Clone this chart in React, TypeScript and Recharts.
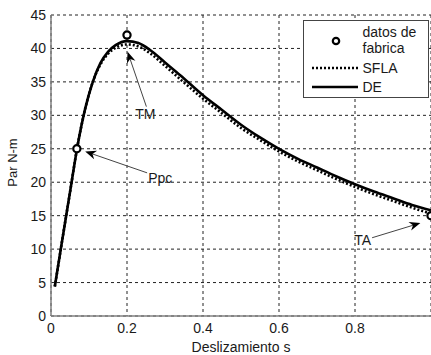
import {
  CartesianGrid,
  ComposedChart,
  Legend,
  Line,
  ReferenceLine,
  Scatter,
  XAxis,
  YAxis,
} from "recharts";

// deslizamiento (slip) sampled along the curves
const slip = [
  0.01, 0.03, 0.05, 0.07, 0.09, 0.11, 0.13, 0.15, 0.17, 0.2, 0.23, 0.26, 0.3,
  0.34, 0.4, 0.45, 0.5, 0.55, 0.6, 0.65, 0.7, 0.75, 0.8, 0.85, 0.9, 0.95, 1.0,
];
const torqueDE = [
  4.4, 11.5, 18.5, 25.5, 31, 35, 37.8, 39.5, 40.5, 41.1, 40.8, 39.8, 37.9, 36,
  33, 30.8, 28.6, 26.7, 25, 23.5, 22.2, 20.9, 19.7, 18.6, 17.6, 16.6, 15.8,
];
const torqueSFLA = [
  4.4, 11.5, 18.5, 25.5, 31, 35, 37.6, 39.2, 40.1, 40.6, 40.3, 39.3, 37.4,
  35.4, 32.5, 30.3, 28.1, 26.3, 24.6, 23.1, 21.8, 20.5, 19.3, 18.2, 17.2, 16.2,
  15.3,
];

// datos de fabrica
const factorySlip = [0.068, 0.2, 1.0];
const factoryTorque = [25, 42, 15];

const xTicks = [0, 0.2, 0.4, 0.6, 0.8, 1];
const yTicks = [0, 5, 10, 15, 20, 25, 30, 35, 40, 45];

// annotations: label, arrow start {s, t}, arrow tip {s, t}
const noteLabels = ["TM", "Ppc", "TA"];
const noteFrom = [
  { x: 0.251, y: 31.3 },
  { x: 0.253, y: 21.4 },
  { x: 0.845, y: 11.7 },
];
const noteTo = [
  { x: 0.2016, y: 39.5 },
  { x: 0.09, y: 24.6 },
  { x: 0.972, y: 13.9 },
];
// text placement relative to the start of each arrow
const noteText = [
  { dx: -1, dy: 12, anchor: "middle" },
  { dx: 1, dy: 10, anchor: "start" },
  { dx: -1, dy: 7, anchor: "end" },
];

const legendNames = ["datos de fabrica", "SFLA", "DE"];

const curveRows = slip.map((s, i) => ({
  s,
  de: torqueDE[i],
  sfla: torqueSFLA[i],
}));
const factoryRows = factorySlip.map((s, i) => ({ s, t: factoryTorque[i] }));

const FONT = "'Liberation Sans', Arial, sans-serif";
const INK = "#1a1a1a";

function arrowShape(i: number) {
  return (props: any) => {
    const { x1, y1, x2, y2 } = props;
    const ang = Math.atan2(y2 - y1, x2 - x1);
    const len = 11;
    const half = 4.5;
    const bx = x2 - len * Math.cos(ang);
    const by = y2 - len * Math.sin(ang);
    const nx = -Math.sin(ang) * half;
    const ny = Math.cos(ang) * half;
    const notchX = x2 - len * 0.7 * Math.cos(ang);
    const notchY = y2 - len * 0.7 * Math.sin(ang);
    const t = noteText[i];
    return (
      <g>
        <line x1={x1} y1={y1} x2={notchX} y2={notchY} stroke="#444" strokeWidth={1} />
        <polygon
          points={`${x2},${y2} ${bx + nx},${by + ny} ${notchX},${notchY} ${bx - nx},${by - ny}`}
          fill="#000"
        />
        <text
          x={x1 + t.dx}
          y={y1 + t.dy}
          textAnchor={t.anchor}
          fontSize={14}
          fill={INK}
          fontFamily={FONT}
        >
          {noteLabels[i]}
        </text>
      </g>
    );
  };
}

function FactoryDot(props: any) {
  const { cx, cy } = props;
  return <circle cx={cx} cy={cy} r={3.6} fill="#fff" stroke="#000" strokeWidth={2.2} />;
}

function LegendBox() {
  const line = (dash?: string) => (
    <svg width={46} height={6} style={{ position: "absolute", left: 8, top: -3 }}>
      <line
        x1={0}
        y1={3}
        x2={46}
        y2={3}
        stroke="#000"
        strokeWidth={2.5}
        strokeDasharray={dash}
      />
    </svg>
  );
  return (
    <div
      style={{
        width: 126,
        height: 78,
        boxSizing: "border-box",
        border: "1.5px solid #444",
        background: "#fff",
        position: "relative",
        fontFamily: FONT,
        fontSize: 14,
        color: INK,
        lineHeight: "16.6px",
      }}
    >
      <svg width={12} height={12} style={{ position: "absolute", left: 26, top: 13.5 }}>
        <circle cx={6} cy={6} r={3.2} fill="#fff" stroke="#000" strokeWidth={2.2} />
      </svg>
      <div style={{ position: "absolute", left: 58.5, top: 2.5, width: 64 }}>
        {legendNames[0]}
      </div>
      <div style={{ position: "absolute", left: 0, top: 47 }}>{line("2 2")}</div>
      <div style={{ position: "absolute", left: 58.5, top: 38.5 }}>{legendNames[1]}</div>
      <div style={{ position: "absolute", left: 0, top: 66 }}>{line()}</div>
      <div style={{ position: "absolute", left: 58.5, top: 57.5 }}>{legendNames[2]}</div>
    </div>
  );
}

export default function App() {
  return (
    <div style={{ position: "absolute", left: 0, top: 0, fontFamily: FONT }}>
      <ComposedChart
        width={431}
        height={355}
        margin={{ top: 15, right: 0, bottom: 0, left: 0 }}
      >
        <CartesianGrid stroke="#222" strokeDasharray="3 3" strokeWidth={1} />
        <XAxis
          type="number"
          dataKey="s"
          domain={[0, 1]}
          ticks={xTicks}
          // the "1" label is cut off by the right edge in the original
          tickFormatter={(v) => (v === 1 ? "" : String(v))}
          height={39}
          tickLine={false}
          tickSize={5}
          tickMargin={2}
          axisLine={{ stroke: "#808080", strokeWidth: 1.5 }}
          tick={{ fontSize: 14, fill: INK }}
          label={{
            value: "Deslizamiento s",
            position: "insideBottom",
            offset: 3,
            fontSize: 14,
            fill: INK,
          }}
        />
        <YAxis
          type="number"
          domain={[0, 45]}
          ticks={yTicks}
          width={51}
          tickLine={false}
          tickSize={3}
          tickMargin={2}
          axisLine={{ stroke: "#808080", strokeWidth: 1.5 }}
          tick={{ fontSize: 14, fill: INK }}
          label={(p: any) => {
            const vb = p.viewBox;
            const cx = vb.x + 12;
            const cy = vb.y + vb.height / 2 - 3;
            return (
              <text
                x={cx}
                y={cy}
                transform={`rotate(-90 ${cx} ${cy})`}
                textAnchor="middle"
                dominantBaseline="central"
                fontSize={13}
                fill={INK}
              >
                Par N-m
              </text>
            );
          }}
        />
        <Line
          data={curveRows}
          dataKey="sfla"
          name={legendNames[1]}
          type="monotone"
          stroke="#000"
          strokeWidth={2.6}
          strokeDasharray="2 2"
          dot={false}
          activeDot={false}
          isAnimationActive={false}
        />
        <Line
          data={curveRows}
          dataKey="de"
          name={legendNames[2]}
          type="monotone"
          stroke="#000"
          strokeWidth={2.6}
          dot={false}
          activeDot={false}
          isAnimationActive={false}
        />
        <Scatter
          data={factoryRows}
          dataKey="t"
          name={legendNames[0]}
          shape={FactoryDot}
          isAnimationActive={false}
        />
        {noteLabels.map((label, i) => (
          <ReferenceLine
            key={label}
            segment={[noteFrom[i], noteTo[i]]}
            shape={arrowShape(i)}
          />
        ))}
        <Legend
          layout="vertical"
          align="center"
          verticalAlign="middle"
          wrapperStyle={{ left: 303, top: 20, width: 126, height: 78 }}
          content={() => <LegendBox />}
        />
      </ComposedChart>
    </div>
  );
}
